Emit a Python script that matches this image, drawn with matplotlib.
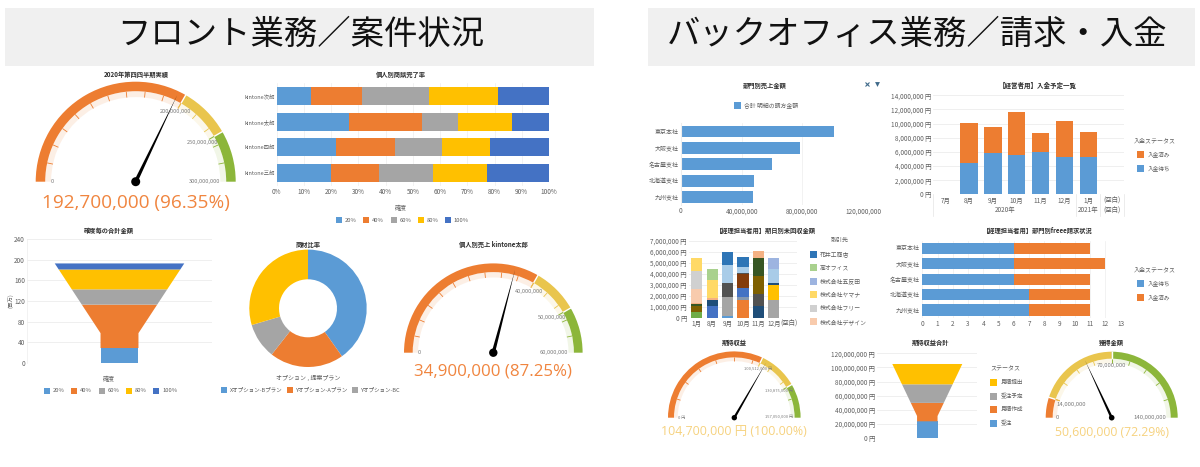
import numpy as np
import matplotlib
matplotlib.use("Agg")
import matplotlib.pyplot as plt
from matplotlib.patches import Wedge, Rectangle, Polygon, Circle

plt.rcParams['font.family'] = ['Noto Sans CJK JP', 'DejaVu Sans']
W, H = 1200, 467

BLUE, ORANGE, GREY, GOLD, INDIGO = '#5B9BD5', '#ED7D31', '#A5A5A5', '#FFC000', '#4472C4'
PALE = ['#5B9BD5', '#ED7D31', '#A5A5A5', '#FFC000', '#4472C4']
TXT, TTL, GRID = '#5E5E5E', '#2E2E2E', '#EDEDED'
G_OR, G_YE, G_GR = '#ED7D31', '#E9C54D', '#8CB63A'

# ---------- data ----------
prob_labels = ['20%', '40%', '60%', '80%', '100%']
people = ['kintone次郎', 'kintone太郎', 'kintone四郎', 'kintone三郎']
rate_20 = [12.5, 26.6, 21.7, 20.0]
rate_40 = [18.7, 26.6, 21.8, 17.4]
rate_60 = [24.9, 13.2, 17.2, 19.9]
rate_80 = [25.0, 20.1, 17.5, 20.1]
rate_100 = [18.9, 13.5, 21.8, 22.6]

funnel1_tops = [29, 113, 142.5, 181, 192.7]
funnel1_ticks = [0, 40, 80, 120, 160, 200, 240]

share_labels = ['Xオプション-Bプラン', 'Yオプション-Aプラン', 'Yオプション-BC']
share_values = [40.2, 20.4, 9.8, 29.6]

depts = ['東京本社', '大阪支社', '名古屋支社', '北海道支社', '九州支社']
dept_sales = [101e6, 78.4e6, 60.2e6, 48.4e6, 47.3e6]
dept_ticks = [0, 40000000, 80000000, 120000000]

pay_months = ['7月', '8月', '9月', '10月', '11月', '12月', '1月', '(空白)']
pay_wait = [0, 4.4e6, 5.9e6, 5.5e6, 6.0e6, 5.3e6, 5.3e6, 0]
pay_done = [0, 5.7e6, 3.55e6, 6.1e6, 2.7e6, 5.05e6, 3.5e6, 0]
pay_ticks = [0, 2000000, 4000000, 6000000, 8000000, 10000000, 12000000, 14000000]

due_months = ['1月', '8月', '9月', '10月', '11月', '12月', '(空白)']
due_ticks = [0, 1000000, 2000000, 3000000, 4000000, 5000000, 6000000, 7000000]
due_jan = [0.5, 0.55, 0.2, 0.1, 1.25, 1.65, 1.15]
due_aug = [1.05, 0.55, 0.2, 1.65, 0.95]
due_sep = [0.15, 1.7, 1.3, 1.65, 1.15]
due_oct = [1.65, 0.2, 0.85, 1.3, 0.1, 0.5, 0.9]
due_nov = [1.05, 1.1, 1.65, 1.65, 0.6]
due_dec = [1.6, 1.35, 0.2, 1.3, 0.95]
C_LG, C_BR, C_DG, C_PE, C_LP, C_LGY, C_LY = '#70AD47', '#7F6000', '#375623', '#F4B183', '#F8CBAD', '#D0D0D0', '#FFD966'
C_IN, C_NV, C_LGN, C_SB, C_DGY, C_LB, C_RU, C_BG, C_PW = '#4472C4', '#1F4E79', '#A9D18E', '#2E75B6', '#525252', '#A9CCE8', '#843C0C', '#8497B0', '#9DB4E0'
due_stacks = [
    (due_jan, [C_LG, C_BR, C_DG, C_PE, C_LP, C_LGY, C_LY]),
    (due_aug, [C_IN, C_NV, C_PE, C_LY, C_LGN]),
    (due_sep, [BLUE, GREY, C_DGY, C_LB, C_SB]),
    (due_oct, [ORANGE, C_BG, C_IN, C_RU, C_DGY, C_LB, C_SB]),
    (due_nov, [C_NV, C_DGY, C_BR, C_DG, C_PE]),
    (due_dec, [GREY, GOLD, C_NV, C_LB, C_PW]),
]
clients = ['花井工商店', '高オフィス', '株式会社五反田', '株式会社ヤマナ', '株式会社フリー', '株式会社デザイン']
client_colors = [C_SB, C_LGN, C_PW, C_LY, C_LGY, C_LP]

bill_wait = [6, 6, 6, 7, 7]
bill_done = [5, 6, 5, 4, 4]

funnel2_tops = [24e6, 50e6, 76.2e6, 104.9e6]
funnel2_ticks = [0, 20000000, 40000000, 60000000, 80000000, 100000000, 120000000]
funnel2_labels = ['見積提出', '受注予定', '見積作成', '受注']

# ---------- helpers ----------
fig = plt.figure(figsize=(W / 100, H / 100), dpi=100, facecolor='white')


def pxax(x0, y0, x1, y1):
    ax = fig.add_axes([x0 / W, 1 - y1 / H, (x1 - x0) / W, (y1 - y0) / H])
    ax.set_facecolor('none')
    for s in ax.spines.values():
        s.set_visible(False)
    ax.tick_params(length=0, labelsize=4.6, labelcolor=TXT, pad=1.5)
    ax.set_axisbelow(True)
    return ax


ov = pxax(0, 0, W, H)
ov.set_xlim(0, W)
ov.set_ylim(H, 0)
ov.set_xticks([])
ov.set_yticks([])
ov.set_zorder(10)


def T(x, y, s, size=4.3, color=TXT, ha='center', weight='normal', **kw):
    ov.text(x, y, s, fontsize=size, color=color, ha=ha, va='center', fontweight=weight, **kw)


def title(x, y, s, size=4.5):
    T(x, y, s, size=size, color=TTL, weight='bold')


def swatch(x, y, c, s=6):
    ov.add_patch(Rectangle((x, y - s / 2), s, s, facecolor=c, edgecolor='none'))


def yen(v):
    return f'{v:,} 円'


def gauge(cx, cy, R, bw, maxv, bands, value, n_ticks, labels, lsize, text, tcolor, tsize, ty, hub, nw):
    ax = pxax(cx - R * 1.1, cy - R * 1.1, cx + R * 1.1, cy + R * 1.1)
    ax.set_xlim(-1.1, 1.1)
    ax.set_ylim(-1.1, 1.1)
    ax.set_xticks([])
    ax.set_yticks([])
    ang = lambda v: 180 - 180 * v / maxv
    lo = 0
    for hi, c in bands:
        ax.add_patch(Wedge((0, 0), 1, ang(hi), ang(lo), width=bw / R, facecolor=c, edgecolor='none'))
        ax.add_patch(Wedge((0, 0), 1 - bw / R, ang(hi), ang(lo), width=bw * 0.62 / R,
                           facecolor=c, alpha=0.12, edgecolor='none'))
        lo = hi
    r0, r1 = 1 - bw / R, 1 - bw * 1.62 / R
    for tv in np.linspace(0, maxv, n_ticks + 1)[1:-1]:
        c = next(c for hi, c in bands if tv <= hi + 1e-6)
        th = np.radians(ang(tv))
        ax.plot([r0 * np.cos(th), r1 * np.cos(th)], [r0 * np.sin(th), r1 * np.sin(th)],
                color=c, lw=0.6, solid_capstyle='butt')
    for hi, c in bands[:-1]:
        th = np.radians(ang(hi))
        ax.plot([r0 * np.cos(th), 1.01 * np.cos(th)], [r0 * np.sin(th), 1.01 * np.sin(th)],
                color='white', lw=1.0, solid_capstyle='butt')
        ax.plot([r0 * np.cos(th), r1 * np.cos(th)], [r0 * np.sin(th), r1 * np.sin(th)],
                color=bands[bands.index((hi, c)) + 1][1], lw=0.7, solid_capstyle='butt')
    th = np.radians(ang(value))
    d = np.array([np.cos(th), np.sin(th)])
    n = np.array([-d[1], d[0]])
    tip = d * 0.96
    ax.add_patch(Polygon([tip, n * nw / R, -n * nw / R], facecolor='black', edgecolor='none'))
    ax.add_patch(Circle((0, 0), hub / R, facecolor='black', edgecolor='none', clip_on=False))
    for x, y, s in labels:
        T(x, y, s, size=lsize, color='#7A7A7A')
    ov.text(cx, ty, text, fontsize=tsize, color=tcolor, ha='center', va='center',
            family=['Open Sans', 'Noto Sans CJK JP'])


def funnel(ax, tops, colors):
    peak = tops[-1]
    neck = 0.3 * peak

    def hw(v):
        return 0.205 if v <= neck else 0.205 + (0.70 - 0.205) * (v - neck) / (peak - neck)
    lo = 0
    for hi, c in zip(tops, colors):
        vs = [lo] + ([neck] if lo < neck < hi else []) + [hi]
        left = [(-hw(v), v) for v in vs]
        right = [(hw(v), v) for v in vs][::-1]
        ax.add_patch(Polygon(left + right, facecolor=c, edgecolor='none'))
        lo = hi
    ax.set_xlim(-1, 1)
    ax.set_xticks([])


# ---------- headers ----------
ov.add_patch(Rectangle((5, 8), 589, 58, facecolor='#F0F0F0', edgecolor='none'))
ov.add_patch(Rectangle((648, 8), 547, 58, facecolor='#F0F0F0', edgecolor='none'))
T(301, 34, 'フロント業務／案件状況', size=24, color='#111111')
T(917, 34, 'バックオフィス業務／請求・入金', size=24, color='#111111')

# ---------- gauge 1 ----------
title(136, 74.7, '2020年第四四半期実績')
gauge(135.7, 181.7, 100, 9.5, 300e6, [(200e6, G_OR), (250e6, G_YE), (300e6, G_GR)], 192.7e6, 15,
      [(52, 181.5, '0'), (175.7, 111.3, '200,000,000'), (202.7, 142.7, '250,000,000'), (205, 181, '300,000,000')],
      4.1, '192,700,000 (96.35%)', '#F0853F', 13.7, 203, 4.5, 1.8)

# ---------- stacked 100% bars ----------
ax = pxax(276.7, 83.2, 549, 185.5)
y = np.arange(len(people))
left = np.zeros(len(people))
for vals, c in zip([rate_20, rate_40, rate_60, rate_80, rate_100], PALE):
    ax.barh(y, vals, left=left, height=0.7, color=c)
    left += np.array(vals)
ax.set_ylim(3.5, -0.5)
ax.set_xlim(0, 100)
ax.set_yticks(y, people, fontsize=3.9)
ax.set_xticks(range(0, 101, 10), [f'{v}%' for v in range(0, 101, 10)])
ax.grid(axis='x', color=GRID, lw=0.5)
title(400.7, 74.7, '個人別商談完了率')
T(400.5, 208, '確度', color=TXT)
for xs, lab, c in zip([335.5, 363, 390.5, 418, 444.5], prob_labels, PALE):
    swatch(xs, 220.3, c)
    T(xs + 9, 220.3, lab, ha='left', size=4.2)

# ---------- funnel 1 ----------
ax = pxax(27, 239, 212, 363)
funnel(ax, funnel1_tops, PALE)
ax.set_ylim(0, 240)
ax.set_yticks(funnel1_ticks, [str(v) for v in funnel1_ticks])
ax.grid(axis='y', color=GRID, lw=0.6)
ax.spines['left'].set_visible(True)
ax.spines['left'].set_color(GRID)
ax.spines['left'].set_linewidth(0.5)
title(109, 230, '確度毎の合計金額')
T(10.5, 301, '(百万)', rotation=90, size=4.0)
T(109, 379, '確度')
for xs, lab, c in zip([44, 71.3, 98.7, 126, 153.3], prob_labels, PALE):
    swatch(xs, 390.7, c)
    T(xs + 9, 390.7, lab, ha='left', size=4.2)

# ---------- donut ----------
ax = pxax(308 - 60, 308.3 - 60, 308 + 60, 308.3 + 60)
ax.pie(share_values, colors=[BLUE, ORANGE, GREY, GOLD], startangle=90, counterclock=False,
       radius=58.7 / 60, wedgeprops=dict(width=29.7 / 60, edgecolor='none'))
ax.set_xlim(-1, 1)
ax.set_ylim(-1, 1)
title(308, 244.7, '商材比率')
T(308, 378.3, 'オプション , 提案プラン')
for xs, lab, c in zip([221, 287, 352.3], share_labels, [BLUE, ORANGE, GREY]):
    swatch(xs, 390.3, c)
    T(xs + 9, 390.3, lab, ha='left', size=4.0)

# ---------- gauge 2 ----------
title(493, 244.7, '個人別売上 kintone太郎')
gauge(493.3, 352.7, 89.3, 8.7, 60e6, [(40e6, G_OR), (50e6, G_YE), (60e6, G_GR)], 34.9e6, 15,
      [(419.3, 352.7, '0'), (529, 291, '40,000,000'), (552.3, 318, '50,000,000'), (554.3, 352.7, '60,000,000')],
      4.1, '34,900,000 (87.25%)', '#F0853F', 12.2, 372, 4.2, 1.7)

# ---------- dept bars ----------
ax = pxax(680.7, 123.3, 863.3, 205.3)
ax.barh(range(5), dept_sales, height=0.72, color=BLUE)
ax.set_ylim(4.5, -0.5)
ax.set_xlim(0, 120e6)
ax.set_yticks(range(5), depts, fontsize=4.3)
ax.set_xticks(dept_ticks, [f'{v:,}' for v in dept_ticks])
ax.grid(axis='x', color=GRID, lw=0.5)
ax.spines['left'].set_visible(True)
ax.spines['left'].set_color(GRID)
title(765, 85.5, '部門別売上金額')
swatch(734, 105, BLUE, 7)
T(744, 105, '合計 明細の請方金額', ha='left', size=4.2)
ov.plot([867], [84.3], marker='x', ms=3, mew=0.8, color='#3F6A8A')
ov.plot([877], [84.3], marker='v', ms=3.5, mew=0, color='#3F6A8A')

# ---------- payment plan ----------
ax = pxax(933.3, 95.3, 1124, 194.3)
x = np.arange(8)
ax.bar(x, pay_wait, width=0.73, color=BLUE)
ax.bar(x, pay_done, bottom=pay_wait, width=0.73, color=ORANGE)
ax.set_xlim(-0.5, 7.5)
ax.set_ylim(0, 14e6)
ax.set_yticks(pay_ticks, [yen(v) for v in pay_ticks])
ax.set_xticks(x, pay_months)
ax.tick_params(axis='x', pad=2)
ax.grid(axis='y', color=GRID, lw=0.6)
tr = ax.get_xaxis_transform()
for xv in [-0.5, 5.5, 6.5, 7.5]:
    ax.plot([xv, xv], [0, -0.216], transform=tr, clip_on=False, color='#E4E4E4', lw=0.5)
for xv, s in [(2.5, '2020年'), (6.0, '2021年'), (7.0, '(空白)')]:
    ax.text(xv, -0.162, s, transform=tr, fontsize=4.6, color=TXT, ha='center', va='center')
title(1037.7, 85, '【経営者用】入金予定一覧', 4.7)
T(1134, 140.7, '入金ステータス', ha='left')
for yy, lab, c in [(154.7, '入金済み', ORANGE), (168, '入金待ち', BLUE)]:
    swatch(1136.7, yy, c, 7)
    T(1147.5, yy, lab, ha='left', size=4.1)

# ---------- overdue stacks ----------
ax = pxax(689, 240.7, 797, 317.7)
for i, (vals, cols) in enumerate(due_stacks):
    ax.bar([i] * len(vals), np.array(vals) * 1e6, bottom=np.r_[0, np.cumsum(vals)[:-1]] * 1e6,
           width=0.73, color=cols)
ax.set_xlim(-0.5, 6.5)
ax.set_ylim(0, 7e6)
ax.set_yticks(due_ticks, [yen(v) for v in due_ticks])
ax.set_xticks(range(7), due_months)
ax.grid(axis='y', color=GRID, lw=0.6)
title(766, 230, '【経理担当者用】期日別未回収金額', 4.5)
T(840, 240.7, '取引先')
for yy, lab, c in zip([254.3, 267.7, 281, 294.7, 308, 321.7], clients, client_colors):
    swatch(809.7, yy, c, 7)
    T(820, yy, lab, ha='left', size=4.2)

# ---------- billing bars ----------
ax = pxax(922.3, 240.7, 1120.7, 317.7)
ax.barh(range(5), bill_wait, height=0.72, color=BLUE)
ax.barh(range(5), bill_done, left=bill_wait, height=0.72, color=ORANGE)
ax.set_ylim(4.5, -0.5)
ax.set_xlim(0, 13)
ax.set_yticks(range(5), depts, fontsize=4.3)
ax.set_xticks(range(14), [str(v) for v in range(14)])
ax.grid(axis='x', color=GRID, lw=0.5)
title(1037.7, 230, '【経理担当者用】部門別freee請求状況', 4.5)
T(1134, 269.7, '入金ステータス', ha='left')
for yy, lab, c in [(283.3, '入金待ち', BLUE), (297, '入金済み', ORANGE)]:
    swatch(1136.7, yy, c, 7)
    T(1147.5, yy, lab, ha='left', size=4.1)

# ---------- gauge 3 ----------
title(734, 343, '期待収益')
gauge(734.3, 417.7, 66.3, 6, 157.05e6, [(100.512e6, G_OR), (130.875e6, G_YE), (157.05e6, G_GR)], 104.7e6, 10,
      [(681.7, 417.7, '0 円'), (757.7, 369, '100,512,000 円'), (779, 391.7, '130,875,000 円'), (778.7, 417.7, '157,050,000 円')],
      2.9, '104,700,000 円 (100.00%)', '#F6D27F', 8.9, 431.7, 2.7, 1.2)

# ---------- funnel 2 ----------
ax = pxax(877.3, 353.3, 977.3, 438.3)
funnel(ax, funnel2_tops, [BLUE, ORANGE, GREY, GOLD])
ax.set_ylim(0, 120e6)
ax.set_yticks(funnel2_ticks, [yen(v) for v in funnel2_ticks])
ax.grid(axis='y', color=GRID, lw=0.6)
title(930.7, 342.7, '期待収益合計')
T(990.5, 369, 'ステータス', ha='left')
for yy, lab, c in zip([382.7, 396, 409.7, 423.3], funnel2_labels, [GOLD, GREY, ORANGE, BLUE]):
    swatch(990, yy, c, 7)
    T(1000.7, yy, lab, ha='left', size=4.1)

# ---------- gauge 4 ----------
title(1111.7, 342.7, '獲得金額')
gauge(1111.7, 417.7, 66, 7, 140e6, [(14e6, G_OR), (70e6, G_YE), (140e6, G_GR)], 50.6e6, 10,
      [(1057, 417.7, '0'), (1071.7, 404.7, '14,000,000'), (1111.7, 365.7, '70,000,000'), (1150, 417.7, '140,000,000')],
      4.3, '50,600,000 (72.29%)', '#F6D27F', 8.8, 432, 2.8, 1.3)

fig.savefig('out.png', dpi=100)
